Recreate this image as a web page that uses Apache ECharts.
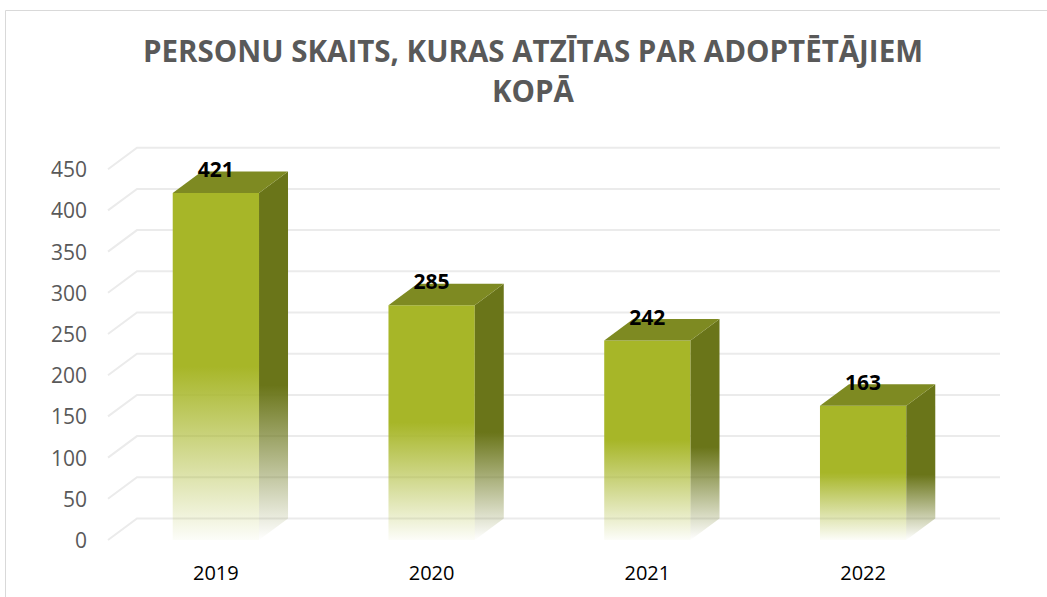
<!DOCTYPE html>
<html>
<head>
<meta charset="utf-8">
<script src="https://cdn.jsdelivr.net/npm/echarts@6/dist/echarts.min.js"></script>
<style>
  html, body { margin: 0; padding: 0; background: #fff; }
  #chart { width: 1047px; height: 597px; }
</style>
</head>
<body>
<div id="chart"></div>
<script>
// dati
var categories = ['2019', '2020', '2021', '2022'];
var values = [421, 285, 242, 163];
var yTicks = [0, 50, 100, 150, 200, 250, 300, 350, 400, 450];

// 3D dziļuma nobīde (px)
var DX = 29, DY = -21.5;

var myChart = echarts.init(document.getElementById('chart'), null, { renderer: 'svg' });

function renderGrid(params, api) {
  var cs = params.coordSys;
  var y = api.coord([0, api.value(1)])[1];
  var left = cs.x, right = cs.x + cs.width;
  return {
    type: 'polyline',
    shape: { points: [[left, y], [left + DX, y + DY], [right + DX, y + DY]] },
    style: { stroke: '#EBEBEB', lineWidth: 2, fill: null }
  };
}

function renderBar(params, api) {
  var top = api.coord([api.value(0), api.value(1)]);
  var base = api.coord([api.value(0), 0]);
  var w = api.size([1, 0])[0] * 0.4;
  var x0 = top[0] - w / 2, x1 = top[0] + w / 2;
  var yT = top[1], yB = base[1];
  return {
    type: 'group',
    children: [
      {
        type: 'rect',
        shape: { x: x0, y: yT, width: w, height: yB - yT },
        style: {
          fill: new echarts.graphic.LinearGradient(0, 0, 0, 1, [
            { offset: 0, color: 'rgba(167,182,40,1)' },
            { offset: 0.5, color: 'rgba(167,182,40,1)' },
            { offset: 1, color: 'rgba(167,182,40,0.03)' }
          ])
        }
      },
      {
        type: 'polygon',
        shape: { points: [[x1, yT], [x1 + DX, yT + DY], [x1 + DX, yB + DY], [x1, yB]] },
        style: {
          fill: new echarts.graphic.LinearGradient(0, 0, 0, 1, [
            { offset: 0, color: 'rgba(106,117,25,1)' },
            { offset: 0.58, color: 'rgba(106,117,25,1)' },
            { offset: 1, color: 'rgba(106,117,25,0)' }
          ])
        }
      },
      {
        type: 'polygon',
        shape: { points: [[x0, yT], [x1, yT], [x1 + DX, yT + DY], [x0 + DX, yT + DY]] },
        style: { fill: '#7E8A22' }
      },
      {
        type: 'text',
        style: {
          x: top[0], y: yT - 24,
          text: String(api.value(1)),
          align: 'center', verticalAlign: 'middle',
          font: 'bold 21px "Open Sans"',
          fill: '#000'
        }
      }
    ]
  };
}

var option = {
  animation: false,
  title: {
    text: 'PERSONU SKAITS, KURAS ATZĪTAS PAR ADOPTĒTĀJIEM\nKOPĀ',
    left: 533,
    top: 30,
    textAlign: 'center',
    padding: 0,
    textStyle: {
      fontFamily: 'Open Sans',
      fontWeight: 'bold',
      fontSize: 29.5,
      lineHeight: 40,
      color: '#595959'
    }
  },
  graphic: [{
    type: 'rect',
    shape: { x: 5.5, y: 10.5, width: 1100, height: 700 },
    style: { fill: null, stroke: '#D9D9D9', lineWidth: 1 },
    silent: true
  }],
  grid: { left: 108, right: 76, top: 169.2, bottom: 57 },
  xAxis: {
    type: 'category',
    data: categories,
    axisLine: { show: false },
    axisTick: { show: false },
    axisLabel: { fontFamily: 'Open Sans', fontSize: 20, color: '#000', margin: 22 }
  },
  yAxis: {
    type: 'value',
    min: 0, max: 450, interval: 50,
    axisLine: { show: false },
    axisTick: { show: false },
    splitLine: { show: false },
    axisLabel: { fontFamily: 'Open Sans', fontSize: 21, color: '#595959', margin: 21 }
  },
  series: [
    {
      type: 'custom',
      renderItem: renderGrid,
      data: yTicks.map(function (v) { return [0, v]; }),
      clip: false,
      silent: true,
      z: 1
    },
    {
      type: 'custom',
      renderItem: renderBar,
      data: values.map(function (v, i) { return [i, v]; }),
      clip: false,
      z: 2
    }
  ]
};

myChart.setOption(option);
</script>
</body>
</html>
